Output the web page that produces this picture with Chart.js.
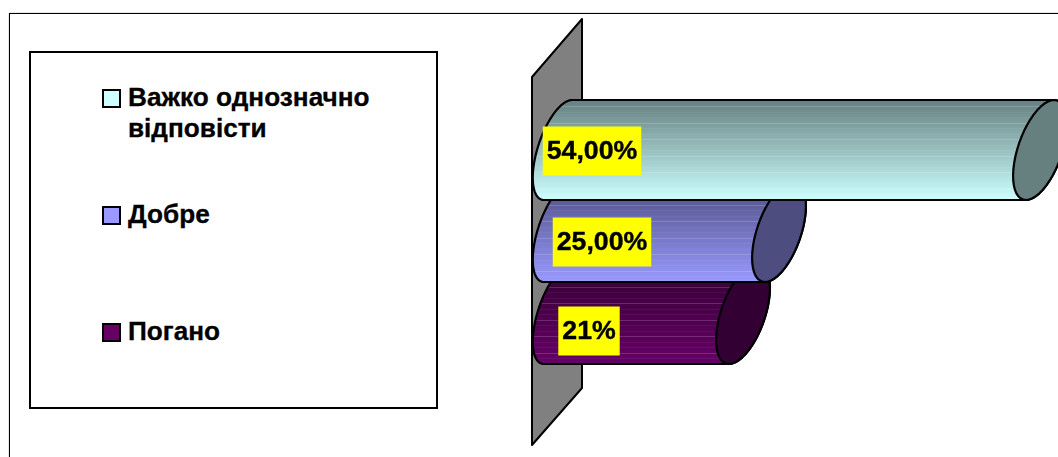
<!DOCTYPE html>
<html>
<head>
<meta charset="utf-8">
<title>chart</title>
<script src="https://cdn.jsdelivr.net/npm/chart.js@4"></script>
<style>
  html, body { margin: 0; padding: 0; background: #fff; overflow: hidden; }
  #wrap { position: relative; width: 1058px; height: 457px; font-family: "Liberation Sans", Arial, sans-serif; }
  #frame { position: absolute; left: 9px; top: 13px; width: 1100px; height: 500px; border: 1px solid #000; box-shadow: 0 0 1px #777; }
  canvas { position: absolute; left: 0; top: 0; }
  #legend { position: absolute; left: 29px; top: 51px; width: 405px; height: 354px; border: 2px solid #000; background: #fff; }
  .item { position: absolute; left: 97px; font-weight: bold; font-size: 26.2px; line-height: 31px; color: #000; width: 275px; -webkit-text-stroke: 0.3px #000; }
  .swatch { position: absolute; left: -26px; top: 7px; width: 15px; height: 15px; border: 2px solid #000; }
</style>
</head>
<body>
<div id="wrap">
  <div id="frame"></div>
  <canvas id="chart" width="1058" height="457"></canvas>
  <div id="legend"></div>
</div>
<script>
const categories = ['Важко однозначно відповісти', 'Добре', 'Погано'];
const values = [54, 25, 21];
const valueLabels = ['54,00%', '25,00%', '21%'];

const barColors = ['#ccffff', '#9999ff', '#660066'];
const shadeColors = ['#668080', '#4d4d80', '#330033'];
const legendTops = [29, 146, 263];
// where each yellow label sits, relative to the start and middle of its bar
const labelDx = [51, 61, 48];
const labelDy = [1, 10, 17];

const startRx = 21;
const capRx = 23;
const capSkew = 14;
const startSkew = 14;

// ellipse leaning to the right, same lean as the bar ends in the picture
function leanArc(path, cx, cy, rx, ry, skew, from, to) {
    const steps = 48;
    for (let i = 0; i <= steps; i++) {
        const t = from + (to - from) * i / steps;
        path.lineTo(cx + rx * Math.cos(t) + skew * Math.sin(t), cy - ry * Math.sin(t));
    }
}

function drawCylinder(ctx, bar, i) {
    const ry = bar.height / 2;
    const top = bar.y - ry;
    const bottom = bar.y + ry;
    const cxEnd = bar.x + capSkew - 1;
    const cxStart = bar.base + startSkew + 3;

    const grad = ctx.createLinearGradient(0, top, 0, bottom);
    grad.addColorStop(0, shadeColors[i]);
    grad.addColorStop(1, barColors[i]);

    const body = new Path2D();
    leanArc(body, cxStart, bar.y, startRx, ry, startSkew, Math.PI / 2, Math.PI * 1.5);
    leanArc(body, cxEnd, bar.y, capRx, ry, capSkew, -Math.PI / 2, Math.PI / 2);
    body.closePath();

    ctx.save();
    ctx.fillStyle = grad;
    ctx.fill(body);

    // faint light bands across the tube
    ctx.save();
    ctx.clip(body);
    ctx.lineWidth = 1;
    let n = 0;
    for (let y = top + 6; y < bottom; y += 5.5) {
        ctx.strokeStyle = 'rgba(255,255,255,' + (n % 3 === 0 ? 0.17 : 0.05) + ')';
        ctx.beginPath();
        ctx.moveTo(bar.base - 10, Math.round(y) + 0.5);
        ctx.lineTo(bar.x + 30, Math.round(y) + 0.5);
        ctx.stroke();
        n++;
    }
    ctx.restore();

    ctx.strokeStyle = '#000';
    ctx.lineWidth = 2.2;
    ctx.lineJoin = 'round';
    ctx.stroke(body);

    const cap = new Path2D();
    leanArc(cap, cxEnd, bar.y, capRx, ry, capSkew, 0, Math.PI * 2);
    cap.closePath();
    ctx.fillStyle = shadeColors[i];
    ctx.fill(cap);
    ctx.stroke(cap);
    ctx.restore();
}

class CylinderController extends Chart.BarController {
    draw() {
        const ctx = this.chart.ctx;
        const bars = this._cachedMeta.data;
        // first category sits in front, so paint from the last one up
        for (let i = bars.length - 1; i >= 0; i--) {
            drawCylinder(ctx, bars[i].getProps(['x', 'y', 'base', 'height'], true), i);
        }
    }
}
CylinderController.id = 'cylinder';
CylinderController.defaults = Chart.BarController.defaults;
CylinderController.overrides = Chart.BarController.overrides;
Chart.register(CylinderController);

const wallPlugin = {
    id: 'wall',
    beforeDatasetsDraw(chart) {
        const ctx = chart.ctx;
        const x0 = chart.scales.x.getPixelForValue(0);
        const area = chart.chartArea;
        ctx.save();
        ctx.beginPath();
        ctx.moveTo(x0 - 9, area.top - 32);
        ctx.lineTo(x0 + 41, area.top - 90);
        ctx.lineTo(x0 + 41, area.bottom + 33);
        ctx.lineTo(x0 - 9, area.bottom + 90);
        ctx.closePath();
        ctx.fillStyle = '#808080';
        ctx.fill();
        ctx.strokeStyle = '#000';
        ctx.lineWidth = 2;
        ctx.lineJoin = 'round';
        ctx.stroke();
        ctx.restore();
    }
};

const valueLabelPlugin = {
    id: 'valueLabel',
    afterDatasetsDraw(chart) {
        const ctx = chart.ctx;
        const bars = chart.getDatasetMeta(0).data;
        ctx.save();
        ctx.font = 'bold 26.7px "Liberation Sans", Arial, sans-serif';
        ctx.textAlign = 'center';
        ctx.textBaseline = 'middle';
        bars.forEach(function (bar, i) {
            const x = bar.base + labelDx[i];
            const y = bar.y + labelDy[i];
            const w = ctx.measureText(valueLabels[i]).width + 8;
            ctx.fillStyle = '#ffff00';
            ctx.fillRect(x - w / 2, y - 24.5, w, 49);
            ctx.fillStyle = '#000';
            ctx.strokeStyle = '#000';
            ctx.lineWidth = 0.4;
            ctx.fillText(valueLabels[i], x, y + 1);
            ctx.strokeText(valueLabels[i], x, y + 1);
        });
        ctx.restore();
    }
};

new Chart(document.getElementById('chart').getContext('2d'), {
    type: 'cylinder',
    data: {
        labels: categories,
        datasets: [{ data: values, barThickness: 100, clip: false }]
    },
    options: {
        indexAxis: 'y',
        responsive: false,
        animation: false,
        devicePixelRatio: 1,
        layout: { padding: { left: 541, right: 4, top: 109, bottom: 102 } },
        scales: {
            x: { display: false, min: 0, max: 57 },
            y: { display: false }
        },
        plugins: { legend: { display: false }, tooltip: { enabled: false } }
    },
    plugins: [wallPlugin, valueLabelPlugin]
});

const legend = document.getElementById('legend');
categories.forEach(function (name, i) {
    const item = document.createElement('div');
    item.className = 'item';
    item.style.top = legendTops[i] + 'px';
    item.textContent = name;
    const swatch = document.createElement('div');
    swatch.className = 'swatch';
    swatch.style.background = barColors[i];
    item.appendChild(swatch);
    legend.appendChild(item);
});
</script>
</body>
</html>
